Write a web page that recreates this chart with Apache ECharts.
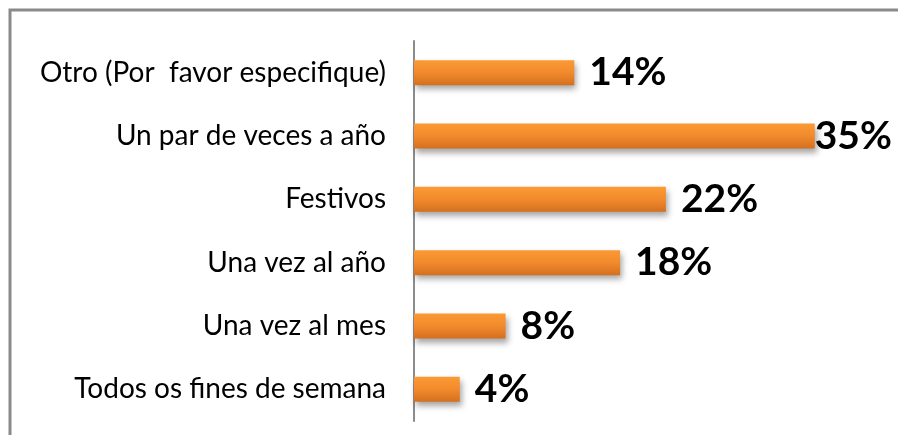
<!DOCTYPE html>
<html>
<head>
<meta charset="utf-8">
<script src="https://cdn.jsdelivr.net/npm/echarts@6/dist/echarts.min.js"></script>
<style>
  html, body { margin: 0; padding: 0; background: #fff; }
  #chart { width: 898px; height: 435px; }
</style>
</head>
<body>
<div id="chart"></div>
<script>
// categories, bottom to top (category axis on y starts at the bottom)
var categorias = ['Todos os fines de semana', 'Una vez al mes', 'Una vez al año', 'Festivos', 'Un par de veces a año', 'Otro (Por  favor especifique)'];
var porcentajes = [4, 8, 18, 22, 35, 14];

var chart = echarts.init(document.getElementById('chart'));

var option = {
    backgroundColor: '#fff',
    animation: false,
    graphic: [{
        type: 'rect',
        shape: { x: 10, y: 10, width: 900, height: 440 },
        style: { fill: 'none', stroke: '#8a8a8a', lineWidth: 3 },
        z: 0
    }],
    grid: {
        left: 414,
        top: 41,
        width: 458,
        bottom: 14
    },
    xAxis: {
        type: 'value',
        min: 0,
        max: 40,
        show: false
    },
    yAxis: {
        type: 'category',
        data: categorias,
        axisTick: { show: false },
        axisLine: {
            show: true,
            lineStyle: { color: '#8c8c8c', width: 2 }
        },
        axisLabel: {
            margin: 28,
            color: '#000',
            fontFamily: 'Lato',
            fontSize: 28
        }
    },
    series: [{
        type: 'bar',
        barWidth: 25,
        data: porcentajes.map(function (v) {
            return {
                value: v,
                label: { distance: v >= 35 ? 0 : 15 }
            };
        }),
        itemStyle: {
            color: new echarts.graphic.LinearGradient(0, 0, 0, 1, [
                { offset: 0, color: '#fb9a35' },
                { offset: 0.5, color: '#f28a2c' },
                { offset: 1, color: '#d46f1f' }
            ]),
            shadowColor: 'rgba(0,0,0,0.35)',
            shadowBlur: 6,
            shadowOffsetX: 2,
            shadowOffsetY: 4
        },
        label: {
            show: true,
            position: 'right',
            formatter: '{c}%',
            color: '#000',
            fontFamily: 'Lato',
            fontWeight: 'bold',
            fontSize: 39
        }
    }]
};

chart.setOption(option);
</script>
</body>
</html>
